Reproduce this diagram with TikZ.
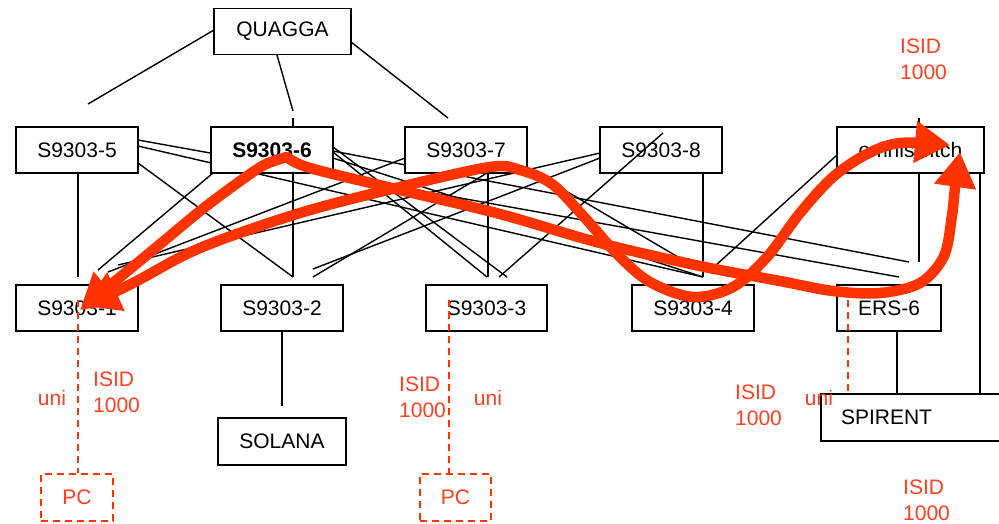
\documentclass[tikz,border=0pt]{standalone}
\usepackage{fontspec}
\setmainfont{Liberation Sans}
\usetikzlibrary{arrows.meta}
\definecolor{rd}{RGB}{255,51,0}
\definecolor{rdtxt}{RGB}{255,64,32}
\begin{document}
\begin{tikzpicture}[x=1pt,y=-1pt,
  box/.style={draw, fill=white, line width=1.7pt, minimum height=46pt, inner sep=0pt, font=\fontsize{21}{25}\selectfont},
  wire/.style={line width=1.4pt, black},
  lbl/.style={text=rdtxt, font=\fontsize{21}{26}\selectfont, inner sep=0pt, align=left, anchor=west},
  unilbl/.style={text=rdtxt, font=\fontsize{21}{26}\selectfont, inner sep=0pt},
  pcbox/.style={draw=rd, dash pattern=on 7pt off 5pt, line width=1.6pt, text=rdtxt, fill=white, inner sep=0pt, font=\fontsize{21}{25}\selectfont},
  reddash/.style={draw=rd, dash pattern=on 7pt off 5pt, line width=1.6pt},
  flow/.style={draw=rd, line width=10.5pt, line join=round, line cap=round},
  head/.style={-{Triangle[width=40pt,length=35pt]}}]
\useasboundingbox (0,0) rectangle (999,523);
\fill[white] (0,0) rectangle (999,523);

% ---- endpoints of wires (free ends) ----
\coordinate (qa) at (88,104);   \coordinate (qb) at (293,111);  \coordinate (qc) at (448,118);
\coordinate (b1a) at (78,277);  \coordinate (b1b) at (98,270);  \coordinate (b1c) at (108,272); \coordinate (b1d) at (118,265);
\coordinate (b2a) at (293,277); \coordinate (b2b) at (313,269); \coordinate (b2c) at (313,277);
\coordinate (b3a) at (487,277); \coordinate (b3b) at (488,277); \coordinate (b3c) at (499,277); \coordinate (b3d) at (507,277);
\coordinate (b4a) at (703,277); \coordinate (b4b) at (700,270); \coordinate (b4c) at (715,266);
\coordinate (bea) at (899,277); \coordinate (beb) at (909,262); \coordinate (bec) at (919,262);
\coordinate (sol) at (282,406);

% ---- wires (under the boxes) ----
\draw[wire] (214,30) -- (qa);
\draw[wire] (277,55) -- (qb);
\draw[wire] (351,42) -- (qc);
\draw[wire] (293,118) -- (293,127);
\draw[wire] (919,118) -- (919,127);
% from S9303-5
\draw[wire] (78,173) -- (b1a);
\draw[wire] (138,163) -- (b2a);
\draw[wire] (138,146) -- (b4a);
\draw[wire] (138,140) -- (bea);
% from S9303-6
\draw[wire] (213,173) -- (b1b);
\draw[wire] (293,173) -- (b2a);
\draw[wire] (333,152) -- (b3a);
\draw[wire] (333,147) -- (b3d);
\draw[wire] (333,158) -- (b4a);
\draw[wire] (333,151) -- (beb);
% from S9303-7
\draw[wire] (405,158) -- (b1c);
\draw[wire] (487,173) -- (b2c);
\draw[wire] (488,173) -- (b3b);
\draw[wire] (527,168) -- (b4b);
% from S9303-8
\draw[wire] (600,153) -- (b1d);
\draw[wire] (600,158) -- (b2b);
\draw[wire] (703,173) -- (b4a);
% omniswitch
\draw[wire] (837,155) -- (b4c);
\draw[wire] (919,173) -- (bec);
\draw[wire] (980,173) -- (980,394);
\draw[wire] (897,331) -- (897,394);
\draw[wire] (282,331) -- (sol);

% ---- boxes ----
\node[box, minimum width=137pt] (quagga) at (282.5,31.5) {QUAGGA};
\node[box, minimum width=122pt] (s5) at (77,150) {S9303-5};
\node[box, minimum width=122pt, font=\fontsize{21}{25}\selectfont\bfseries] (s6) at (272,150) {S9303-6};
\node[box, minimum width=122pt] (s7) at (466,150) {S9303-7};
\node[box, minimum width=122pt] (s8) at (661,150) {S9303-8};
\node[box, minimum width=147pt] (omni) at (910.5,150) {omniswitch};
\node[box, minimum width=122pt] (s1) at (77,308) {S9303-1};
\node[box, minimum width=122pt] (s2) at (282,308) {S9303-2};
\node[box, minimum width=121pt] (s3) at (486.5,308) {S9303-3};
\node[box, minimum width=122pt] (s4) at (693,308) {S9303-4};
\node[box, minimum width=104pt] (ers) at (889,308) {ERS-6};
\node[box, minimum width=128pt, minimum height=47pt] (solana) at (282,441.5) {SOLANA};
\node[box, minimum height=47pt, text width=145pt, inner xsep=20pt, align=left] (spirent) at (913.5,417.5) {SPIRENT};

% wire drawn over S9303-8
\draw[wire] (663,133) -- (b3c);

% ---- red dashed links and PCs ----
\node[pcbox, minimum width=72pt, minimum height=47pt] (pc1) at (77,497.5) {PC};
\node[pcbox, minimum width=71pt, minimum height=47pt] (pc2) at (455.5,497.5) {PC};
\coordinate (d1) at (78,300);
\coordinate (d2) at (449,300);
\coordinate (d3) at (848,300);
\draw[reddash] (d1) -- (d1 |- pc1.north);
\draw[reddash] (d2) -- (d2 |- pc2.north);
\draw[reddash] (d3) -- (d3 |- spirent.north);

% ---- labels ----
\node[unilbl] (u1) at (52,398) {uni};
\node[lbl] (i1) at (93,392) {ISID\\1000};
\node[lbl] (i2) at (399,397) {ISID\\1000};
\node[unilbl] (u2) at (488,398) {uni};
\node[lbl] (i3) at (735,405) {ISID\\1000};
\node[unilbl] (u3) at (819,398) {uni};
\node[lbl] (i4) at (900,59) {ISID\\1000};
\node[lbl] (i5) at (903,500) {ISID\\1000};

% ---- red flows ----
\coordinate (f6) at (287,157);
\coordinate (t1) at (80,310);
\coordinate (tomR) at (950,145);
\coordinate (tomU) at (960,152);
\draw[flow, head] plot[smooth, tension=0.5] coordinates {(f6) (264,165) (236,184) (200,211) (153,250) (t1)};
\draw[flow, {Triangle[width=40pt,length=35pt]}-{Triangle[width=40pt,length=35pt]}]
  plot[smooth, tension=0.55] coordinates {(84,306) (133,283) (200,248) (300,213) (400,187) (490,167) (520,170) (552,184) (585,218) (618,255) (650,282) (693,297) (733,287) (767,257) (800,213) (833,177) (867,154) (900,143) (tomR)};
\draw[flow, head] plot[smooth, tension=0.55] coordinates {(f6) (310,168) (400,190) (500,214) (600,243) (700,266) (780,281) (833,291) (880,293) (920,283) (944,256) (952,215) (955,188) (tomU)};
\end{tikzpicture}
\end{document}
